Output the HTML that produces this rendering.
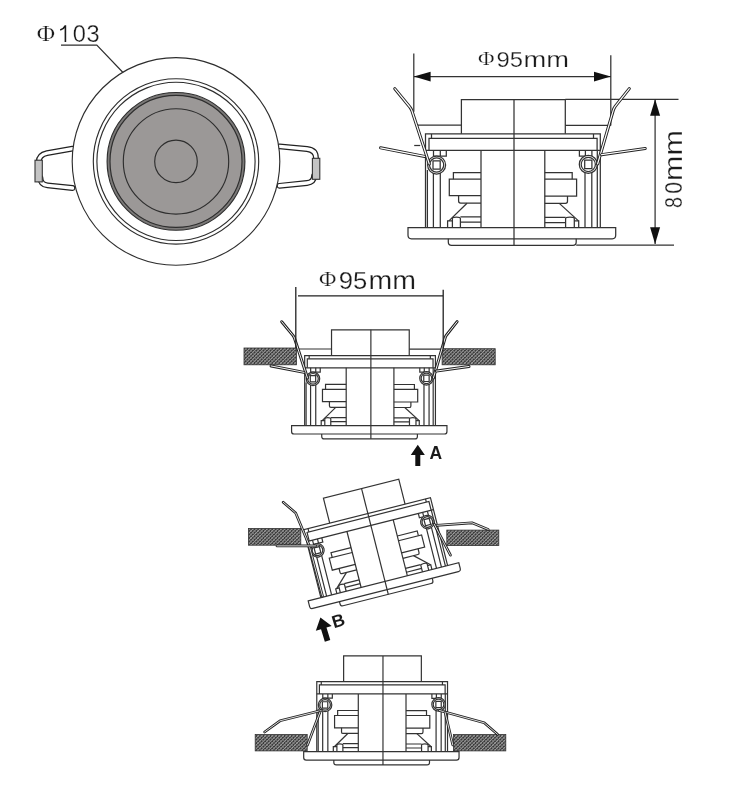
<!DOCTYPE html>
<html><head><meta charset="utf-8"><style>
html,body{margin:0;padding:0;background:#fff;}
svg{display:block;will-change:transform;}
.ln path,.ln circle,.ln rect{vector-effect:non-scaling-stroke;}
text{font-family:"Liberation Sans",sans-serif;fill:#1a1a1a;}
.thin{stroke:#fff;stroke-width:0.25px;}
.serif{font-family:"Liberation Serif",serif;}
</style></head><body>
<svg width="748" height="790" viewBox="0 0 748 790">
<defs>
<pattern id="hatch" patternUnits="userSpaceOnUse" width="2.5" height="2.5" patternTransform="rotate(45)">
<rect width="2.5" height="2.5" fill="#383838"/><rect x="0" y="0" width="0.85" height="2.5" fill="#a4a4a4"/><rect x="0" y="0" width="2.5" height="0.6" fill="#8c8c8c"/>
</pattern>
</defs>
<rect width="748" height="790" fill="#fff"/>

<g fill="none" stroke="#2e2e2e" stroke-width="1.15">
<path d="M72.5,148.7L47,153.2Q38.7,155 38.7,162V170" fill="none" stroke="#222" stroke-width="5.8" stroke-linecap="round" stroke-linejoin="round"/><path d="M72.5,148.7L47,153.2Q38.7,155 38.7,162V170" fill="none" stroke="#fff" stroke-width="3.4" stroke-linecap="round" stroke-linejoin="round"/>
<path d="M72.5,188L47.5,185.4Q40.5,184.6 40.5,178" fill="none" stroke="#222" stroke-width="5.8" stroke-linecap="round" stroke-linejoin="round"/><path d="M72.5,188L47.5,185.4Q40.5,184.6 40.5,178" fill="none" stroke="#fff" stroke-width="3.4" stroke-linecap="round" stroke-linejoin="round"/>
<path d="M279.5,146.4L307,149Q316,150 316,158V168" fill="none" stroke="#222" stroke-width="5.8" stroke-linecap="round" stroke-linejoin="round"/><path d="M279.5,146.4L307,149Q316,150 316,158V168" fill="none" stroke="#fff" stroke-width="3.4" stroke-linecap="round" stroke-linejoin="round"/>
<path d="M279.5,185.8L307,183Q314,182.2 314,176" fill="none" stroke="#222" stroke-width="5.8" stroke-linecap="round" stroke-linejoin="round"/><path d="M279.5,185.8L307,183Q314,182.2 314,176" fill="none" stroke="#fff" stroke-width="3.4" stroke-linecap="round" stroke-linejoin="round"/>
<rect x="35" y="160.2" width="7.3" height="21.7" fill="#c4c4c4" stroke="#333" stroke-width="1.1"/>
<rect x="312.4" y="158.3" width="7.4" height="21" fill="#c4c4c4" stroke="#333" stroke-width="1.1"/>
<circle cx="176.0" cy="161.4" r="103.8" fill="#fff"/>
<circle cx="176.0" cy="161.4" r="82.7"/>
<circle cx="176.0" cy="161.4" r="79.1"/>
<circle cx="176.0" cy="161.4" r="68.9" fill="#7c7a79"/>
<circle cx="176.0" cy="161.4" r="66.0" fill="#9b9897"/>
<circle cx="176.0" cy="161.4" r="52.7"/>
<circle cx="176.0" cy="161.4" r="21.3"/>
<path d="M61,45.1H96.8L123,72.5"/>
</g>
<text class="serif thin" font-size="25" transform="translate(36.8,40.6) scale(1.0,0.9)">Φ</text>
<path d="M65.4,42V25.3M65.4,25.6Q64,28.6 60.2,30" fill="none" stroke="#1a1a1a" stroke-width="1.6"/>
<text class="thin" x="72.7" y="42.3" font-size="23.6">0</text>
<text class="thin" x="86.6" y="42.3" font-size="23.6">3</text>
<g class="ln" fill="none" stroke="#333" stroke-width="1.25">
<path d="M461.4,133.8V99.5H565.3V133.8"/>
<path d="M425.5,227.5V133.9H600.3V227.5"/>
<path d="M431.5,133.9V138.3M593.5,133.9V138.3"/>
<path d="M429,150.3V138.3H597.1V150.3"/>
<path d="M425.5,150.3H600.3"/>
<path d="M433.5,150.3V156H446.3V150.3M440.3,150.3V156"/>
<path d="M579.4,150.3V156.2H591.9V150.3M585.4,150.3V156.2"/>
<path d="M427.4,170V227.5M597.3,150.3V227.5"/>
<path d="M433.4,172V227.5M440.3,172V227.5"/>
<path d="M585,172V227.5M591.8,172V227.5"/>
<path d="M481,150.3V227.5M544.8,150.3V227.5"/>
<path d="M453.4,179.2V172.5H481"/>
<path d="M481,179.2H449.3V195.6H481"/>
<path d="M458.6,195.6V201.1Q458.6,203.2 460.6,203.2H481"/>
<path d="M467,203.2L448.9,220.9"/>
<path d="M447.6,227.5V220.9H452.4M452.4,227.5V218.5Q452.4,217 456.4,217Q460.4,217 460.4,218.5V227.5"/>
<path d="M460.4,216.9H481M460.4,222.2H481"/>
<path d="M572.2,179.2V172.6H544.8"/>
<path d="M544.8,179.2H576.6V196H544.8"/>
<path d="M567.5,196V201.3Q567.5,203.4 565.5,203.4H544.8"/>
<path d="M559.3,203.4L578.5,220.9"/>
<path d="M578.7,227.5V220.9H574.3M574.3,227.5V218.5Q574.3,217 570,217Q565.6,217 565.6,218.5V227.5"/>
<path d="M565.6,217.3H544.8M565.6,222.6H544.8"/>
<path d="M408,227.5H615.7V235.3Q615.7,238.8 612.3,238.8H411.4Q408,238.8 408,235.3Z"/>
<path d="M448.3,238.8V242Q448.3,245.3 451.6,245.3H573Q576.2,245.3 576.2,242V238.8"/>
<path d="M514,99.5V245.3"/>
<circle cx="436.6" cy="165.0" r="9.0" fill="#fff"/>
<circle cx="436.6" cy="165.0" r="7.1" fill="#fff"/>
<rect x="433.0" y="160.8" width="7.2" height="8.4" fill="#fff"/>
<circle cx="588.3" cy="164.4" r="9.0" fill="#fff"/>
<circle cx="588.3" cy="164.4" r="7.1" fill="#fff"/>
<rect x="584.6999999999999" y="160.20000000000002" width="7.2" height="8.4" fill="#fff"/>
<path d="M417.6,125.2H461.4M565.3,125.4H610.8" />
<path d="M414.2,145.5H420.2"/>
<path d="M413.8,53.6V111.8M610.8,55.2V125.4M413.8,76.6H610.8M565.3,99.3H678.5M576.2,245.1H674M655.1,99.3V244.1"/>
</g>
<path d="M394.8,88.7L409.8,107Q411.2,108.8 411.9,110.8L429.3,164" fill="none" stroke="#222" stroke-width="3.1" stroke-linecap="round" stroke-linejoin="round"/><path d="M394.8,88.7L409.8,107Q411.2,108.8 411.9,110.8L429.3,164" fill="none" stroke="#fff" stroke-width="1.2" stroke-linecap="round" stroke-linejoin="round"/>
<path d="M380.6,147.8L424.6,156.4" fill="none" stroke="#222" stroke-width="3.1" stroke-linecap="round" stroke-linejoin="round"/><path d="M380.6,147.8L424.6,156.4" fill="none" stroke="#fff" stroke-width="1.2" stroke-linecap="round" stroke-linejoin="round"/>
<path d="M629.3,88.6L615.2,106.4Q613.9,108.2 613.3,110.2L597.6,164" fill="none" stroke="#222" stroke-width="3.1" stroke-linecap="round" stroke-linejoin="round"/><path d="M629.3,88.6L615.2,106.4Q613.9,108.2 613.3,110.2L597.6,164" fill="none" stroke="#fff" stroke-width="1.2" stroke-linecap="round" stroke-linejoin="round"/>
<path d="M645.2,148.5L601.6,154.7" fill="none" stroke="#222" stroke-width="3.1" stroke-linecap="round" stroke-linejoin="round"/><path d="M645.2,148.5L601.6,154.7" fill="none" stroke="#fff" stroke-width="1.2" stroke-linecap="round" stroke-linejoin="round"/>
<g fill="#111"><path d="M413.8,76.6L430.6,71.8V81.4Z"/><path d="M610.8,76.6L594,71.8V81.4Z"/><path d="M655.1,99.3L650.1,115.7H660.1Z"/><path d="M655.1,244.1L650.1,227.3H660.1Z"/></g>
<text class="serif thin" font-size="20.5" transform="translate(478,65.3) scale(1.1,0.88)">Φ</text>
<text class="thin" x="496.6" y="66.6" font-size="22" textLength="26.5" lengthAdjust="spacingAndGlyphs">95</text>
<text class="thin" x="523.6" y="66.6" font-size="22.5" textLength="45.5" lengthAdjust="spacingAndGlyphs">mm</text>
<g transform="translate(681.6,207.5) rotate(-90)" font-size="23.6"><text class="thin" transform="translate(-0.6,0) scale(0.84,1)">8</text><text class="thin" transform="translate(13.8,0) scale(0.9,1)">0</text><text class="thin" x="26.4" y="0" textLength="51" lengthAdjust="spacingAndGlyphs" font-size="25">mm</text></g>
<rect x="244" y="348" width="52.5" height="16.8" fill="url(#hatch)" stroke="#333" stroke-width="0.8"/>
<rect x="442.1" y="348.7" width="53.1" height="16.1" fill="url(#hatch)" stroke="#333" stroke-width="0.8"/>
<g transform="translate(370.5,329.8) scale(0.748) translate(-513.5,-99.5)">
<g class="ln" fill="none" stroke="#333" stroke-width="1.2">
<path d="M461.4,133.8V99.5H565.3V133.8"/>
<path d="M425.5,227.5V133.9H600.3V227.5"/>
<path d="M431.5,133.9V138.3M593.5,133.9V138.3"/>
<path d="M429,150.3V138.3H597.1V150.3"/>
<path d="M425.5,150.3H600.3"/>
<path d="M433.5,150.3V156H446.3V150.3M440.3,150.3V156"/>
<path d="M579.4,150.3V156.2H591.9V150.3M585.4,150.3V156.2"/>
<path d="M427.4,170V227.5M597.3,150.3V227.5"/>
<path d="M433.4,172V227.5M440.3,172V227.5"/>
<path d="M585,172V227.5M591.8,172V227.5"/>
<path d="M481,150.3V227.5M544.8,150.3V227.5"/>
<path d="M453.4,179.2V172.5H481"/>
<path d="M481,179.2H449.3V195.6H481"/>
<path d="M458.6,195.6V201.1Q458.6,203.2 460.6,203.2H481"/>
<path d="M467,203.2L448.9,220.9"/>
<path d="M447.6,227.5V220.9H452.4M452.4,227.5V218.5Q452.4,217 456.4,217Q460.4,217 460.4,218.5V227.5"/>
<path d="M460.4,216.9H481M460.4,222.2H481"/>
<path d="M572.2,179.2V172.6H544.8"/>
<path d="M544.8,179.2H576.6V196H544.8"/>
<path d="M567.5,196V201.3Q567.5,203.4 565.5,203.4H544.8"/>
<path d="M559.3,203.4L578.5,220.9"/>
<path d="M578.7,227.5V220.9H574.3M574.3,227.5V218.5Q574.3,217 570,217Q565.6,217 565.6,218.5V227.5"/>
<path d="M565.6,217.3H544.8M565.6,222.6H544.8"/>
<path d="M408,227.5H615.7V235.3Q615.7,238.8 612.3,238.8H411.4Q408,238.8 408,235.3Z"/>
<path d="M448.3,238.8V242Q448.3,245.3 451.6,245.3H573Q576.2,245.3 576.2,242V238.8"/>
<path d="M514,99.5V245.3"/>
<circle cx="436.6" cy="165.0" r="9.0" fill="#fff"/>
<circle cx="436.6" cy="165.0" r="7.1" fill="#fff"/>
<rect x="433.0" y="160.8" width="7.2" height="8.4" fill="#fff"/>
<circle cx="588.3" cy="164.4" r="9.0" fill="#fff"/>
<circle cx="588.3" cy="164.4" r="7.1" fill="#fff"/>
<rect x="584.6999999999999" y="160.20000000000002" width="7.2" height="8.4" fill="#fff"/>
<path d="M417.6,125.2H461.4M565.3,125.4H610.8" />
</g>
<path d="M394.8,88.7L409.8,107Q411.2,108.8 411.9,110.8L429.3,164" fill="none" stroke="#222" stroke-width="4.010695187165775" stroke-linecap="round" stroke-linejoin="round"/><path d="M394.8,88.7L409.8,107Q411.2,108.8 411.9,110.8L429.3,164" fill="none" stroke="#fff" stroke-width="1.2700534759358288" stroke-linecap="round" stroke-linejoin="round"/>
<path d="M380.6,147.8L424.6,156.4" fill="none" stroke="#222" stroke-width="4.010695187165775" stroke-linecap="round" stroke-linejoin="round"/><path d="M380.6,147.8L424.6,156.4" fill="none" stroke="#fff" stroke-width="1.2700534759358288" stroke-linecap="round" stroke-linejoin="round"/>
<path d="M629.3,88.6L615.2,106.4Q613.9,108.2 613.3,110.2L597.6,164" fill="none" stroke="#222" stroke-width="4.010695187165775" stroke-linecap="round" stroke-linejoin="round"/><path d="M629.3,88.6L615.2,106.4Q613.9,108.2 613.3,110.2L597.6,164" fill="none" stroke="#fff" stroke-width="1.2700534759358288" stroke-linecap="round" stroke-linejoin="round"/>
<path d="M645.2,148.5L601.6,154.7" fill="none" stroke="#222" stroke-width="4.010695187165775" stroke-linecap="round" stroke-linejoin="round"/><path d="M645.2,148.5L601.6,154.7" fill="none" stroke="#fff" stroke-width="1.2700534759358288" stroke-linecap="round" stroke-linejoin="round"/>
</g>
<path d="M295.8,287V348.5M443.2,289.7V348.5M298,295.8H443.2" fill="none" stroke="#222" stroke-width="1.3"/>
<text class="serif thin" font-size="23" transform="translate(319,285.8) scale(1.03,0.89)">Φ</text>
<text class="thin" x="338.8" y="288.7" font-size="24.5" textLength="28.5" lengthAdjust="spacingAndGlyphs">95</text>
<text class="thin" x="368.5" y="288.7" font-size="25" textLength="47.5" lengthAdjust="spacingAndGlyphs">mm</text>
<path d="M417.8,444.8L424.85,454.90000000000003H420.3V466.1H415.3V454.90000000000003H410.75Z" fill="#111" stroke="none"/>
<text x="429.5" y="458.9" font-size="17.5" font-weight="bold">A</text>
<rect x="248.4" y="528.4" width="52.4" height="16.8" fill="url(#hatch)" stroke="#333" stroke-width="0.8"/>
<rect x="446.8" y="530.1" width="52" height="15.5" fill="url(#hatch)" stroke="#333" stroke-width="0.8"/>
<g transform="translate(361.2,488.7) rotate(-14.2) scale(0.748) translate(-513.5,-99.5)">
<g class="ln" fill="none" stroke="#333" stroke-width="1.2">
<path d="M461.4,133.8V99.5H565.3V133.8"/>
<path d="M425.5,227.5V133.9H600.3V227.5"/>
<path d="M431.5,133.9V138.3M593.5,133.9V138.3"/>
<path d="M429,150.3V138.3H597.1V150.3"/>
<path d="M425.5,150.3H600.3"/>
<path d="M433.5,150.3V156H446.3V150.3M440.3,150.3V156"/>
<path d="M579.4,150.3V156.2H591.9V150.3M585.4,150.3V156.2"/>
<path d="M427.4,170V227.5M597.3,150.3V227.5"/>
<path d="M433.4,172V227.5M440.3,172V227.5"/>
<path d="M585,172V227.5M591.8,172V227.5"/>
<path d="M481,150.3V227.5M544.8,150.3V227.5"/>
<path d="M453.4,179.2V172.5H481"/>
<path d="M481,179.2H449.3V195.6H481"/>
<path d="M458.6,195.6V201.1Q458.6,203.2 460.6,203.2H481"/>
<path d="M467,203.2L448.9,220.9"/>
<path d="M447.6,227.5V220.9H452.4M452.4,227.5V218.5Q452.4,217 456.4,217Q460.4,217 460.4,218.5V227.5"/>
<path d="M460.4,216.9H481M460.4,222.2H481"/>
<path d="M572.2,179.2V172.6H544.8"/>
<path d="M544.8,179.2H576.6V196H544.8"/>
<path d="M567.5,196V201.3Q567.5,203.4 565.5,203.4H544.8"/>
<path d="M559.3,203.4L578.5,220.9"/>
<path d="M578.7,227.5V220.9H574.3M574.3,227.5V218.5Q574.3,217 570,217Q565.6,217 565.6,218.5V227.5"/>
<path d="M565.6,217.3H544.8M565.6,222.6H544.8"/>
<path d="M408,227.5H615.7V235.3Q615.7,238.8 612.3,238.8H411.4Q408,238.8 408,235.3Z"/>
<path d="M448.3,238.8V242Q448.3,245.3 451.6,245.3H573Q576.2,245.3 576.2,242V238.8"/>
<path d="M514,99.5V245.3"/>
<circle cx="436.6" cy="165.0" r="9.0" fill="#fff"/>
<circle cx="436.6" cy="165.0" r="7.1" fill="#fff"/>
<rect x="433.0" y="160.8" width="7.2" height="8.4" fill="#fff"/>
<circle cx="588.3" cy="164.4" r="9.0" fill="#fff"/>
<circle cx="588.3" cy="164.4" r="7.1" fill="#fff"/>
<rect x="584.6999999999999" y="160.20000000000002" width="7.2" height="8.4" fill="#fff"/>
</g></g>
<path d="M283.2,502.2L295.7,513L309,545L322.5,596" fill="none" stroke="#222" stroke-width="2.7" stroke-linecap="round" stroke-linejoin="round"/><path d="M283.2,502.2L295.7,513L309,545L322.5,596" fill="none" stroke="#fff" stroke-width="0.85" stroke-linecap="round" stroke-linejoin="round"/>
<path d="M277,545.9H315.5" fill="none" stroke="#222" stroke-width="2.7" stroke-linecap="round" stroke-linejoin="round"/><path d="M277,545.9H315.5" fill="none" stroke="#fff" stroke-width="0.85" stroke-linecap="round" stroke-linejoin="round"/>
<path d="M436.9,525.3L472,522.8L488.2,529.4" fill="none" stroke="#222" stroke-width="2.7" stroke-linecap="round" stroke-linejoin="round"/><path d="M436.9,525.3L472,522.8L488.2,529.4" fill="none" stroke="#fff" stroke-width="0.85" stroke-linecap="round" stroke-linejoin="round"/>
<path d="M434.3,524.3L450.5,555.2" fill="none" stroke="#222" stroke-width="2.7" stroke-linecap="round" stroke-linejoin="round"/><path d="M434.3,524.3L450.5,555.2" fill="none" stroke="#fff" stroke-width="0.85" stroke-linecap="round" stroke-linejoin="round"/>
<g transform="translate(320.4,617.4) rotate(-17)"><path d="M0,0L8.3,11.5H2.85V24.5H-2.85V11.5H-8.3Z" fill="#111" stroke="none"/></g>
<text x="0" y="0" font-size="17.5" font-weight="bold" transform="translate(334,628.3) rotate(-17)">B</text>
<rect x="255.2" y="734.5" width="52" height="16.4" fill="url(#hatch)" stroke="#333" stroke-width="0.8"/>
<rect x="453.4" y="734.5" width="52.4" height="16.4" fill="url(#hatch)" stroke="#333" stroke-width="0.8"/>
<g transform="translate(382.6,655.9) scale(0.748) translate(-513.5,-99.5)">
<g class="ln" fill="none" stroke="#333" stroke-width="1.2">
<path d="M461.4,133.8V99.5H565.3V133.8"/>
<path d="M425.5,227.5V133.9H600.3V227.5"/>
<path d="M431.5,133.9V138.3M593.5,133.9V138.3"/>
<path d="M429,150.3V138.3H597.1V150.3"/>
<path d="M425.5,150.3H600.3"/>
<path d="M433.5,150.3V156H446.3V150.3M440.3,150.3V156"/>
<path d="M579.4,150.3V156.2H591.9V150.3M585.4,150.3V156.2"/>
<path d="M427.4,170V227.5M597.3,150.3V227.5"/>
<path d="M433.4,172V227.5M440.3,172V227.5"/>
<path d="M585,172V227.5M591.8,172V227.5"/>
<path d="M481,150.3V227.5M544.8,150.3V227.5"/>
<path d="M453.4,179.2V172.5H481"/>
<path d="M481,179.2H449.3V195.6H481"/>
<path d="M458.6,195.6V201.1Q458.6,203.2 460.6,203.2H481"/>
<path d="M467,203.2L448.9,220.9"/>
<path d="M447.6,227.5V220.9H452.4M452.4,227.5V218.5Q452.4,217 456.4,217Q460.4,217 460.4,218.5V227.5"/>
<path d="M460.4,216.9H481M460.4,222.2H481"/>
<path d="M572.2,179.2V172.6H544.8"/>
<path d="M544.8,179.2H576.6V196H544.8"/>
<path d="M567.5,196V201.3Q567.5,203.4 565.5,203.4H544.8"/>
<path d="M559.3,203.4L578.5,220.9"/>
<path d="M578.7,227.5V220.9H574.3M574.3,227.5V218.5Q574.3,217 570,217Q565.6,217 565.6,218.5V227.5"/>
<path d="M565.6,217.3H544.8M565.6,222.6H544.8"/>
<path d="M408,227.5H615.7V235.3Q615.7,238.8 612.3,238.8H411.4Q408,238.8 408,235.3Z"/>
<path d="M448.3,238.8V242Q448.3,245.3 451.6,245.3H573Q576.2,245.3 576.2,242V238.8"/>
<path d="M514,99.5V245.3"/>
<circle cx="436.6" cy="165.0" r="9.0" fill="#fff"/>
<circle cx="436.6" cy="165.0" r="7.1" fill="#fff"/>
<rect x="433.0" y="160.8" width="7.2" height="8.4" fill="#fff"/>
<circle cx="588.3" cy="164.4" r="9.0" fill="#fff"/>
<circle cx="588.3" cy="164.4" r="7.1" fill="#fff"/>
<rect x="584.6999999999999" y="160.20000000000002" width="7.2" height="8.4" fill="#fff"/>
</g></g>
<path d="M321.1,710.5L280,720.8L264.6,732" fill="none" stroke="#222" stroke-width="2.7" stroke-linecap="round" stroke-linejoin="round"/><path d="M321.1,710.5L280,720.8L264.6,732" fill="none" stroke="#fff" stroke-width="0.85" stroke-linecap="round" stroke-linejoin="round"/>
<path d="M320,712L307.5,745" fill="none" stroke="#222" stroke-width="2.7" stroke-linecap="round" stroke-linejoin="round"/><path d="M320,712L307.5,745" fill="none" stroke="#fff" stroke-width="0.85" stroke-linecap="round" stroke-linejoin="round"/>
<path d="M439.5,710.5L484.2,722.8L497.5,734.3" fill="none" stroke="#222" stroke-width="2.7" stroke-linecap="round" stroke-linejoin="round"/><path d="M439.5,710.5L484.2,722.8L497.5,734.3" fill="none" stroke="#fff" stroke-width="0.85" stroke-linecap="round" stroke-linejoin="round"/>
<path d="M445,712L452.8,745" fill="none" stroke="#222" stroke-width="2.7" stroke-linecap="round" stroke-linejoin="round"/><path d="M445,712L452.8,745" fill="none" stroke="#fff" stroke-width="0.85" stroke-linecap="round" stroke-linejoin="round"/>
</svg></body></html>
